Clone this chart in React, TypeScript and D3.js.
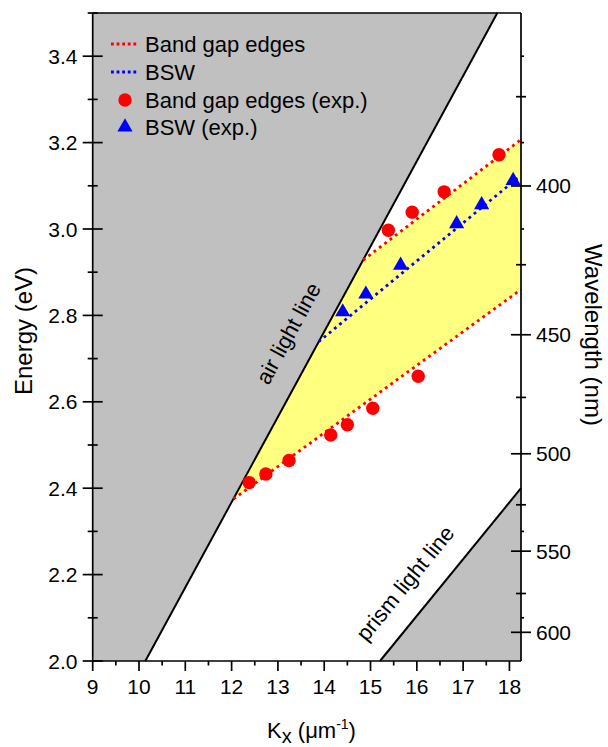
import React, { useEffect, useRef } from 'react';
import * as d3 from 'd3';

// light lines (k in um^-1, E in eV)
const airLine: [number, number][] = [[10.137, 2.0], [17.738, 3.5]];
const prismLine: [number, number][] = [[15.205, 2.0], [18.25, 2.4]];

// simulated band gap edges and BSW
const upperEdge: [number, number][] = [[14.84, 2.928], [18.25, 3.207]];
const lowerEdge: [number, number][] = [[12.04, 2.375], [18.25, 2.86]];
const bswLine: [number, number][] = [[13.88, 2.739], [18.2, 3.12]];

// experimental points
const edgeK = [12.38, 12.74, 13.24, 14.14, 14.5, 15.05, 16.03, 15.385, 15.9, 16.59, 17.775];
const edgeE = [2.413, 2.433, 2.464, 2.523, 2.547, 2.585, 2.659, 2.997, 3.039, 3.086, 3.172];
const bswK = [14.4, 14.9, 15.65, 16.86, 17.4, 18.08];
const bswE = [2.808, 2.849, 2.916, 3.012, 3.056, 3.112];

const xTicks = [9, 10, 11, 12, 13, 14, 15, 16, 17, 18];
const xMinor = [9.5, 10.5, 11.5, 12.5, 13.5, 14.5, 15.5, 16.5, 17.5];
const yTicks = [2.0, 2.2, 2.4, 2.6, 2.8, 3.0, 3.2, 3.4];
const yMinor = [2.1, 2.3, 2.5, 2.7, 2.9, 3.1, 3.3, 3.5];
const wlTicks = [400, 450, 500, 550, 600];
const wlMinor = [375, 425, 475, 525, 575];
const rightSmall = [3.4, 3.2, 3.0, 2.3, 2.1];

const legendItems = [
  { label: 'Band gap edges', kind: 'line', color: '#ff0000' },
  { label: 'BSW', kind: 'line', color: '#0000ff' },
  { label: 'Band gap edges (exp.)', kind: 'circle', color: '#ff0000' },
  { label: 'BSW (exp.)', kind: 'triangle', color: '#0000ff' },
];

const FONT = 'Arial, "Liberation Sans", Helvetica, sans-serif';

const App: React.FC = () => {
  const svgRef = useRef<SVGSVGElement>(null);

  useEffect(() => {
    if (!svgRef.current) return;
    const svg = d3.select(svgRef.current);
    svg.selectAll('*').remove();

    const left = 92.7, right = 521, top = 13, bottom = 661;
    const x = d3.scaleLinear().domain([9, 18.25]).range([left, right]);
    const y = d3.scaleLinear().domain([2.0, 3.5]).range([bottom, top]);
    const hc = 1239.84;

    const g = svg.append('g');

    // grey regions beyond the light lines
    const poly = (pts: [number, number][]) =>
      pts.map(p => `${x(p[0])},${y(p[1])}`).join(' ');

    g.append('polygon')
      .attr('points', poly([[9, 2.0], airLine[0], airLine[1], [9, 3.5]]))
      .attr('fill', '#c0c0c0');
    g.append('polygon')
      .attr('points', poly([prismLine[0], prismLine[1], [18.25, 2.0]]))
      .attr('fill', '#c0c0c0');

    // yellow gap region
    g.append('polygon')
      .attr('points', poly([lowerEdge[0], upperEdge[0], upperEdge[1], lowerEdge[1]]))
      .attr('fill', '#ffff80');

    const line = d3.line<[number, number]>().x(d => x(d[0])).y(d => y(d[1]));

    // light lines
    [airLine, prismLine].forEach(l => {
      g.append('path')
        .attr('d', line(l))
        .attr('stroke', '#000')
        .attr('stroke-width', 2)
        .attr('fill', 'none');
    });

    // dotted lines
    [[upperEdge, '#ff0000'], [lowerEdge, '#ff0000'], [bswLine, '#0000ff']].forEach(([l, c]) => {
      g.append('path')
        .attr('d', line(l as [number, number][]))
        .attr('stroke', c as string)
        .attr('stroke-width', 2.8)
        .attr('stroke-dasharray', '2.8 3.9')
        .attr('fill', 'none');
    });

    // experimental points
    edgeK.forEach((k, i) => {
      g.append('circle')
        .attr('cx', x(k))
        .attr('cy', y(edgeE[i]))
        .attr('r', 6.7)
        .attr('fill', '#ff0000');
    });
    const tri = d3.symbol().type(d3.symbolTriangle).size(100);
    bswK.forEach((k, i) => {
      g.append('path')
        .attr('d', tri())
        .attr('transform', `translate(${x(k)},${y(bswE[i])})`)
        .attr('fill', '#0000ff');
    });

    // annotations
    g.append('text')
      .attr('transform', `translate(295,337) rotate(-61.5)`)
      .attr('text-anchor', 'middle')
      .style('font-family', FONT)
      .style('font-size', '22px')
      .text('air light line');
    g.append('text')
      .attr('transform', `translate(411,588) rotate(-50.8)`)
      .attr('text-anchor', 'middle')
      .style('font-family', FONT)
      .style('font-size', '22px')
      .text('prism light line');

    // frame
    const ax = svg.append('g').attr('stroke', '#000').attr('stroke-width', 1.7);
    ax.append('line').attr('x1', left).attr('x2', right).attr('y1', bottom).attr('y2', bottom);
    ax.append('line').attr('x1', left).attr('x2', right).attr('y1', top).attr('y2', top);
    ax.append('line').attr('x1', left).attr('x2', left).attr('y1', top).attr('y2', bottom);
    ax.append('line').attr('x1', right).attr('x2', right).attr('y1', top).attr('y2', bottom);

    // x ticks
    xTicks.forEach(t => {
      ax.append('line').attr('x1', x(t)).attr('x2', x(t)).attr('y1', bottom).attr('y2', bottom + 10);
      svg.append('text')
        .attr('x', x(t)).attr('y', 694)
        .attr('text-anchor', 'middle')
        .style('font-family', FONT).style('font-size', '21px')
        .text(t);
    });
    xMinor.forEach(t => {
      ax.append('line').attr('x1', x(t)).attr('x2', x(t)).attr('y1', bottom).attr('y2', bottom + 4.5);
    });

    // left y ticks
    yTicks.forEach(t => {
      ax.append('line').attr('x1', left - 10).attr('x2', left + 10).attr('y1', y(t)).attr('y2', y(t));
      svg.append('text')
        .attr('x', 77.5).attr('y', y(t) + 7.5)
        .attr('text-anchor', 'end')
        .style('font-family', FONT).style('font-size', '21px')
        .text(t.toFixed(1));
    });
    yMinor.forEach(t => {
      ax.append('line').attr('x1', left - 5).attr('x2', left + 5).attr('y1', y(t)).attr('y2', y(t));
    });

    // right wavelength ticks
    wlTicks.forEach(w => {
      const yy = y(hc / w);
      ax.append('line').attr('x1', right - 10).attr('x2', right + 10).attr('y1', yy).attr('y2', yy);
      svg.append('text')
        .attr('x', 536).attr('y', yy + 7.5)
        .style('font-family', FONT).style('font-size', '21px')
        .text(w);
    });
    wlMinor.forEach(w => {
      const yy = y(hc / w);
      ax.append('line').attr('x1', right - 5).attr('x2', right + 5).attr('y1', yy).attr('y2', yy);
    });
    rightSmall.forEach(t => {
      ax.append('line').attr('x1', right).attr('x2', right + 3).attr('y1', y(t)).attr('y2', y(t));
    });

    // axis titles
    svg.append('text')
      .attr('transform', 'translate(31.5,331) rotate(-90)')
      .attr('text-anchor', 'middle')
      .style('font-family', FONT).style('font-size', '24px')
      .text('Energy (eV)');
    svg.append('text')
      .attr('transform', 'translate(585,335) rotate(90)')
      .attr('text-anchor', 'middle')
      .style('font-family', FONT).style('font-size', '24px')
      .text('Wavelength (nm)');

    const xt = svg.append('text')
      .attr('x', 267).attr('y', 738)
      .style('font-family', FONT).style('font-size', '22px');
    xt.append('tspan').text('K');
    xt.append('tspan').attr('dy', 5).style('font-size', '20px').text('x');
    xt.append('tspan').attr('dy', -5).text(' (\u03bcm');
    xt.append('tspan').attr('dy', -9).style('font-size', '14px').text('-1');
    xt.append('tspan').attr('dy', 9).text(')');

    // legend
    const rowY = [44, 72, 100, 127];
    legendItems.forEach((it, i) => {
      const cy = rowY[i];
      if (it.kind === 'line') {
        svg.append('line')
          .attr('x1', 111).attr('x2', 139).attr('y1', cy).attr('y2', cy)
          .attr('stroke', it.color).attr('stroke-width', 2.8)
          .attr('stroke-dasharray', '2.8 2.8');
      } else if (it.kind === 'circle') {
        svg.append('circle').attr('cx', 125).attr('cy', cy).attr('r', 6.7).attr('fill', it.color);
      } else {
        svg.append('path').attr('d', tri()).attr('transform', `translate(125,${cy})`).attr('fill', it.color);
      }
      svg.append('text')
        .attr('x', 145).attr('y', cy + 7.5)
        .style('font-family', FONT).style('font-size', '22px')
        .text(it.label);
    });
  }, []);

  return (
    <svg
      ref={svgRef}
      width={608}
      height={747}
      style={{ position: 'absolute', left: 0, top: 0, background: '#fff' }}
    />
  );
};

export default App;
